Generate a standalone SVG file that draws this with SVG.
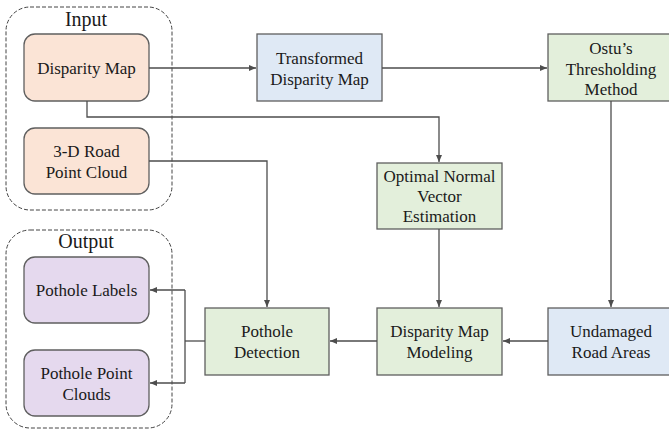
<svg xmlns="http://www.w3.org/2000/svg" width="669" height="431" viewBox="0 0 669 431" font-family="'Liberation Serif', 'Times New Roman', Tinos, 'DejaVu Serif', serif">
<style>
text{font-family:"Liberation Serif","Times New Roman",Tinos,"DejaVu Serif",serif;font-size:17px;fill:#1a1a1a;text-anchor:middle}
.grp{fill:none;stroke:#444;stroke-width:1;stroke-dasharray:4,2}
.title{font-size:20px}
.box{stroke:#5f5f5f;stroke-width:1.3}
.in{fill:#fbe4d6}
.out{fill:#e5d9ee}
.blue{fill:#dfe9f5}
.green{fill:#e3efdb}
.c{fill:none;stroke:#4d4d4d;stroke-width:1.3}
</style>
<defs>
<marker id="ah" markerWidth="8" markerHeight="8" refX="7" refY="4" orient="auto" markerUnits="userSpaceOnUse">
<path d="M0,1 L7,4 L0,7 Z" fill="#4d4d4d"/>
</marker>
</defs>
<g id="input-group">
<rect class="grp" x="6" y="7" width="166" height="203" rx="24"/>
<text class="title" x="86" y="26">Input</text>
</g>
<g id="output-group">
<rect class="grp" x="6" y="230" width="166" height="198" rx="24"/>
<text class="title" x="86" y="248">Output</text>
</g>
<g id="disparity-map">
<rect class="box in" x="24" y="34" width="125" height="67" rx="11"/>
<text x="86.5" y="74">Disparity Map</text>
</g>
<g id="road-point-cloud">
<rect class="box in" x="24" y="128" width="125" height="66" rx="11"/>
<text x="86.5" y="157">3-D Road</text>
<text x="86.5" y="178">Point Cloud</text>
</g>
<g id="pothole-labels">
<rect class="box out" x="24" y="257" width="125" height="66" rx="11"/>
<text x="86.5" y="296">Pothole Labels</text>
</g>
<g id="pothole-point-clouds">
<rect class="box out" x="24" y="350" width="125" height="66" rx="11"/>
<text x="86.5" y="379">Pothole Point</text>
<text x="86.5" y="400">Clouds</text>
</g>
<g id="transformed">
<rect class="box blue" x="257" y="34" width="125" height="67"/>
<text x="319.5" y="64">Transformed</text>
<text x="319.5" y="85">Disparity Map</text>
</g>
<g id="ostu">
<rect class="box green" x="548" y="34" width="125" height="67"/>
<text x="611" y="54">Ostu’s</text>
<text x="611" y="75">Thresholding</text>
<text x="611" y="95">Method</text>
</g>
<g id="optimal">
<rect class="box green" x="377" y="163" width="125" height="66"/>
<text x="439.5" y="182">Optimal Normal</text>
<text x="439.5" y="202">Vector</text>
<text x="439.5" y="222">Estimation</text>
</g>
<g id="pothole-detection">
<rect class="box green" x="205" y="308" width="124" height="67"/>
<text x="267" y="337">Pothole</text>
<text x="267" y="358">Detection</text>
</g>
<g id="modeling">
<rect class="box green" x="377" y="308" width="125" height="67"/>
<text x="439.5" y="337">Disparity Map</text>
<text x="439.5" y="358">Modeling</text>
</g>
<g id="undamaged">
<rect class="box blue" x="548" y="308" width="125" height="67"/>
<text x="611" y="337">Undamaged</text>
<text x="611" y="358">Road Areas</text>
</g>
<g id="connectors">
<path class="c" d="M149,68 H256" marker-end="url(#ah)"/>
<path class="c" d="M382,68 H547" marker-end="url(#ah)"/>
<path class="c" d="M87,101 V117 H439 V162" marker-end="url(#ah)"/>
<path class="c" d="M149,161 H267 V307" marker-end="url(#ah)"/>
<path class="c" d="M611,101 V307" marker-end="url(#ah)"/>
<path class="c" d="M439,229 V307" marker-end="url(#ah)"/>
<path class="c" d="M548,341 H503" marker-end="url(#ah)"/>
<path class="c" d="M377,341 H330" marker-end="url(#ah)"/>
<path class="c" d="M205,341 H185"/>
<path class="c" d="M185,290 V383"/>
<path class="c" d="M185,290 H150" marker-end="url(#ah)"/>
<path class="c" d="M185,383 H150" marker-end="url(#ah)"/>
</g>
</svg>
